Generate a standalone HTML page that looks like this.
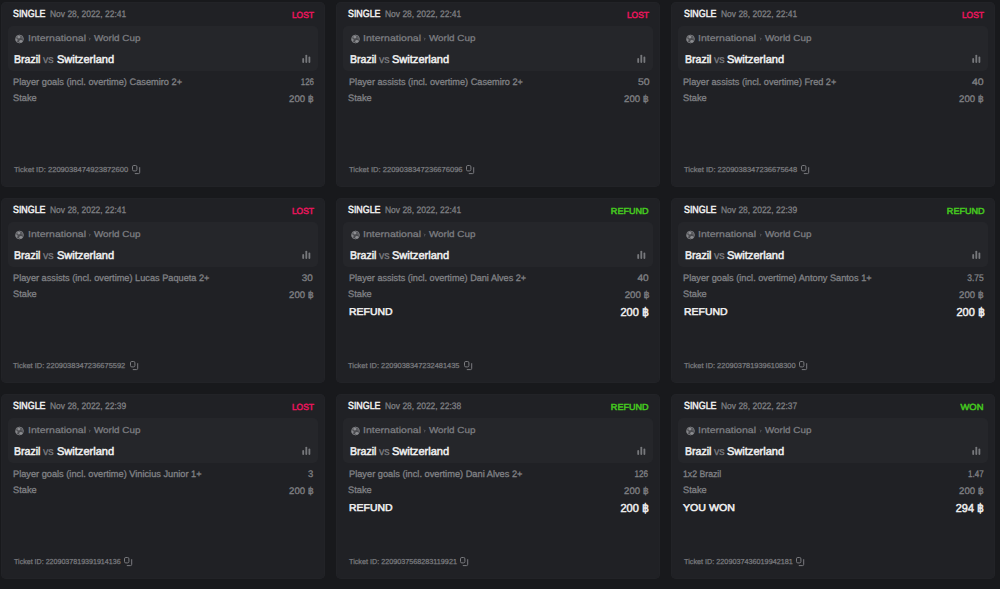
<!DOCTYPE html>
<html><head><meta charset="utf-8"><style>
html,body{margin:0;padding:0;}
body{width:1000px;height:589px;background:#18191c;position:relative;overflow:hidden;font-family:"Liberation Sans",sans-serif;text-rendering:geometricPrecision;}
.card{position:absolute;background:#202125;border-radius:5px;box-shadow:inset 0 0 0 1px #222327;}
.box{position:absolute;background:#25262a;border-radius:5px;}
.t{position:absolute;white-space:nowrap;line-height:1;}
.ic{position:absolute;overflow:visible;}
.dot{position:absolute;background:#606165;border-radius:50%;}
</style></head><body>
<div class="card" style="left:0.7px;top:2.1px;width:324.8px;height:184.8px"><span class="t" style="top:7.90px;font-size:10.3px;color:#f0f0f0;-webkit-text-stroke:0.5px #f0f0f0;left:12.46px;transform-origin:0 0;transform:scaleX(0.8608);">SINGLE</span><span class="t" style="top:7.65px;font-size:9.3px;color:#818286;-webkit-text-stroke:0.25px #818286;left:49.65px;transform-origin:0 0;transform:scaleX(0.9096);">Nov 28, 2022, 22:41</span><span class="t" style="top:9.25px;font-size:8.8px;color:#e8155c;-webkit-text-stroke:0.5px #e8155c;right:11.63px;transform-origin:100% 0;transform:scaleX(0.9604);">LOST</span><div class="box" style="left:6.9px;top:24.3px;width:310.5px;height:45.0px"></div><svg class="ic" style="left:13.75px;top:31.75px" width="10" height="10" viewBox="-5 -5 10 10"><g transform="translate(0.5,0)"><circle cx="0" cy="0" r="3.9" fill="#4a4b4f" stroke="#747579" stroke-width="1"/><ellipse cx="-0.6" cy="-1.9" rx="1.6" ry="1.3" fill="#8c8d91"/><ellipse cx="-2.9" cy="0.9" rx="1.0" ry="1.4" fill="#85868a"/><ellipse cx="1.3" cy="2.3" rx="1.5" ry="1.2" fill="#8c8d91"/><ellipse cx="2.6" cy="-1.2" rx="0.8" ry="1.0" fill="#6a6b6f"/></g></svg><span class="t" style="top:32.15px;font-size:8.7px;color:#7e7f83;-webkit-text-stroke:0.25px #7e7f83;left:27.11px;transform-origin:0 0;transform:scaleX(1.2143);">International</span><svg class="ic" style="left:87.60px;top:35.40px" width="4" height="4" viewBox="0 0 4 4"><path d="M1.3 1.0 L2.3 2.0 L1.3 3.0" fill="none" stroke="#606165" stroke-width="0.9" stroke-linecap="round" stroke-linejoin="round"/></svg><span class="t" style="top:32.15px;font-size:8.7px;color:#7e7f83;-webkit-text-stroke:0.25px #7e7f83;left:93.61px;transform-origin:0 0;transform:scaleX(1.1343);">World Cup</span><span class="t" style="top:52.80px;font-size:11.2px;color:#f0f0f0;-webkit-text-stroke:0.5px #f0f0f0;left:13.73px;transform-origin:0 0;transform:scaleX(0.9438);">Brazil</span><span class="t" style="top:52.80px;font-size:10.8px;color:#7e7f83;-webkit-text-stroke:0.25px #7e7f83;left:42.76px;transform-origin:0 0;transform:scaleX(0.9850);">vs</span><span class="t" style="top:52.80px;font-size:11.2px;color:#f0f0f0;-webkit-text-stroke:0.5px #f0f0f0;left:55.99px;transform-origin:0 0;transform:scaleX(0.9872);">Switzerland</span><svg class="ic" style="left:0;top:0" width="324.8" height="80"><rect x="301.3" y="56.0" width="1.8" height="4.9" rx="0.9" fill="#77787c"/><rect x="304.4" y="52.7" width="1.8" height="8.2" rx="0.9" fill="#77787c"/><rect x="307.5" y="54.5" width="1.8" height="6.4" rx="0.9" fill="#77787c"/></svg><span class="t" style="top:76.15px;font-size:9.3px;color:#808185;-webkit-text-stroke:0.3px #808185;left:12.28px;transform-origin:0 0;transform:scaleX(0.9933);">Player goals (incl. overtime) Casemiro 2+</span><span class="t" style="top:76.15px;font-size:9.6px;color:#808185;-webkit-text-stroke:0.3px #808185;right:11.68px;transform-origin:100% 0;transform:scaleX(0.8225);">126</span><span class="t" style="top:91.80px;font-size:9.3px;color:#808185;-webkit-text-stroke:0.3px #808185;left:12.31px;transform-origin:0 0;transform:scaleX(0.9984);">Stake</span><span class="t" style="top:93.00px;font-size:9.6px;color:#808185;-webkit-text-stroke:0.3px #808185;right:11.66px;transform-origin:100% 0;transform:scaleX(0.9951);">200 ฿</span><span class="t" style="top:163.90px;font-size:7.2px;color:#7a7b7f;-webkit-text-stroke:0.25px #7a7b7f;left:13.08px;transform-origin:0 0;transform:scaleX(1.0576);">Ticket ID: 2209038474923872600</span><svg class="ic" style="left:131.00px;top:162.70px" width="10" height="10" viewBox="0 0 10 10"><rect x="0.5" y="0.5" width="4.4" height="5.4" rx="1.3" fill="none" stroke="#7a7b7f" stroke-width="1"/><path d="M7.7 2.6 V7.4 Q7.7 8.6 6.5 8.6 H3.2" fill="none" stroke="#7a7b7f" stroke-width="1" stroke-linecap="round"/></svg></div><div class="card" style="left:335.8px;top:2.1px;width:324.2px;height:184.8px"><span class="t" style="top:7.90px;font-size:10.3px;color:#f0f0f0;-webkit-text-stroke:0.5px #f0f0f0;left:12.46px;transform-origin:0 0;transform:scaleX(0.8608);">SINGLE</span><span class="t" style="top:7.65px;font-size:9.3px;color:#818286;-webkit-text-stroke:0.25px #818286;left:49.65px;transform-origin:0 0;transform:scaleX(0.9096);">Nov 28, 2022, 22:41</span><span class="t" style="top:9.25px;font-size:8.8px;color:#e8155c;-webkit-text-stroke:0.5px #e8155c;right:11.03px;transform-origin:100% 0;transform:scaleX(0.9604);">LOST</span><div class="box" style="left:6.9px;top:24.3px;width:310.5px;height:45.0px"></div><svg class="ic" style="left:13.75px;top:31.75px" width="10" height="10" viewBox="-5 -5 10 10"><g transform="translate(0.5,0)"><circle cx="0" cy="0" r="3.9" fill="#4a4b4f" stroke="#747579" stroke-width="1"/><ellipse cx="-0.6" cy="-1.9" rx="1.6" ry="1.3" fill="#8c8d91"/><ellipse cx="-2.9" cy="0.9" rx="1.0" ry="1.4" fill="#85868a"/><ellipse cx="1.3" cy="2.3" rx="1.5" ry="1.2" fill="#8c8d91"/><ellipse cx="2.6" cy="-1.2" rx="0.8" ry="1.0" fill="#6a6b6f"/></g></svg><span class="t" style="top:32.15px;font-size:8.7px;color:#7e7f83;-webkit-text-stroke:0.25px #7e7f83;left:27.11px;transform-origin:0 0;transform:scaleX(1.2143);">International</span><svg class="ic" style="left:87.60px;top:35.40px" width="4" height="4" viewBox="0 0 4 4"><path d="M1.3 1.0 L2.3 2.0 L1.3 3.0" fill="none" stroke="#606165" stroke-width="0.9" stroke-linecap="round" stroke-linejoin="round"/></svg><span class="t" style="top:32.15px;font-size:8.7px;color:#7e7f83;-webkit-text-stroke:0.25px #7e7f83;left:93.61px;transform-origin:0 0;transform:scaleX(1.1343);">World Cup</span><span class="t" style="top:52.80px;font-size:11.2px;color:#f0f0f0;-webkit-text-stroke:0.5px #f0f0f0;left:13.73px;transform-origin:0 0;transform:scaleX(0.9438);">Brazil</span><span class="t" style="top:52.80px;font-size:10.8px;color:#7e7f83;-webkit-text-stroke:0.25px #7e7f83;left:42.76px;transform-origin:0 0;transform:scaleX(0.9850);">vs</span><span class="t" style="top:52.80px;font-size:11.2px;color:#f0f0f0;-webkit-text-stroke:0.5px #f0f0f0;left:55.99px;transform-origin:0 0;transform:scaleX(0.9872);">Switzerland</span><svg class="ic" style="left:0;top:0" width="324.2" height="80"><rect x="301.3" y="56.0" width="1.8" height="4.9" rx="0.9" fill="#77787c"/><rect x="304.4" y="52.7" width="1.8" height="8.2" rx="0.9" fill="#77787c"/><rect x="307.5" y="54.5" width="1.8" height="6.4" rx="0.9" fill="#77787c"/></svg><span class="t" style="top:76.15px;font-size:9.3px;color:#808185;-webkit-text-stroke:0.3px #808185;left:12.71px;transform-origin:0 0;transform:scaleX(0.9855);">Player assists (incl. overtime) Casemiro 2+</span><span class="t" style="top:76.15px;font-size:9.6px;color:#808185;-webkit-text-stroke:0.3px #808185;right:10.76px;transform-origin:100% 0;transform:scaleX(1.0925);">50</span><span class="t" style="top:91.80px;font-size:9.3px;color:#808185;-webkit-text-stroke:0.3px #808185;left:12.31px;transform-origin:0 0;transform:scaleX(0.9984);">Stake</span><span class="t" style="top:93.00px;font-size:9.6px;color:#808185;-webkit-text-stroke:0.3px #808185;right:11.06px;transform-origin:100% 0;transform:scaleX(0.9951);">200 ฿</span><span class="t" style="top:163.90px;font-size:7.2px;color:#7a7b7f;-webkit-text-stroke:0.25px #7a7b7f;left:12.96px;transform-origin:0 0;transform:scaleX(1.0512);">Ticket ID: 2209038347236676096</span><svg class="ic" style="left:130.20px;top:162.70px" width="10" height="10" viewBox="0 0 10 10"><rect x="0.5" y="0.5" width="4.4" height="5.4" rx="1.3" fill="none" stroke="#7a7b7f" stroke-width="1"/><path d="M7.7 2.6 V7.4 Q7.7 8.6 6.5 8.6 H3.2" fill="none" stroke="#7a7b7f" stroke-width="1" stroke-linecap="round"/></svg></div><div class="card" style="left:671.1px;top:2.1px;width:324.0px;height:184.8px"><span class="t" style="top:7.90px;font-size:10.3px;color:#f0f0f0;-webkit-text-stroke:0.5px #f0f0f0;left:12.46px;transform-origin:0 0;transform:scaleX(0.8608);">SINGLE</span><span class="t" style="top:7.65px;font-size:9.3px;color:#818286;-webkit-text-stroke:0.25px #818286;left:49.65px;transform-origin:0 0;transform:scaleX(0.9096);">Nov 28, 2022, 22:41</span><span class="t" style="top:9.25px;font-size:8.8px;color:#e8155c;-webkit-text-stroke:0.5px #e8155c;right:10.83px;transform-origin:100% 0;transform:scaleX(0.9604);">LOST</span><div class="box" style="left:6.9px;top:24.3px;width:310.5px;height:45.0px"></div><svg class="ic" style="left:13.75px;top:31.75px" width="10" height="10" viewBox="-5 -5 10 10"><g transform="translate(0.5,0)"><circle cx="0" cy="0" r="3.9" fill="#4a4b4f" stroke="#747579" stroke-width="1"/><ellipse cx="-0.6" cy="-1.9" rx="1.6" ry="1.3" fill="#8c8d91"/><ellipse cx="-2.9" cy="0.9" rx="1.0" ry="1.4" fill="#85868a"/><ellipse cx="1.3" cy="2.3" rx="1.5" ry="1.2" fill="#8c8d91"/><ellipse cx="2.6" cy="-1.2" rx="0.8" ry="1.0" fill="#6a6b6f"/></g></svg><span class="t" style="top:32.15px;font-size:8.7px;color:#7e7f83;-webkit-text-stroke:0.25px #7e7f83;left:27.11px;transform-origin:0 0;transform:scaleX(1.2143);">International</span><svg class="ic" style="left:87.60px;top:35.40px" width="4" height="4" viewBox="0 0 4 4"><path d="M1.3 1.0 L2.3 2.0 L1.3 3.0" fill="none" stroke="#606165" stroke-width="0.9" stroke-linecap="round" stroke-linejoin="round"/></svg><span class="t" style="top:32.15px;font-size:8.7px;color:#7e7f83;-webkit-text-stroke:0.25px #7e7f83;left:93.61px;transform-origin:0 0;transform:scaleX(1.1343);">World Cup</span><span class="t" style="top:52.80px;font-size:11.2px;color:#f0f0f0;-webkit-text-stroke:0.5px #f0f0f0;left:13.73px;transform-origin:0 0;transform:scaleX(0.9438);">Brazil</span><span class="t" style="top:52.80px;font-size:10.8px;color:#7e7f83;-webkit-text-stroke:0.25px #7e7f83;left:42.76px;transform-origin:0 0;transform:scaleX(0.9850);">vs</span><span class="t" style="top:52.80px;font-size:11.2px;color:#f0f0f0;-webkit-text-stroke:0.5px #f0f0f0;left:55.99px;transform-origin:0 0;transform:scaleX(0.9872);">Switzerland</span><svg class="ic" style="left:0;top:0" width="324.0" height="80"><rect x="301.3" y="56.0" width="1.8" height="4.9" rx="0.9" fill="#77787c"/><rect x="304.4" y="52.7" width="1.8" height="8.2" rx="0.9" fill="#77787c"/><rect x="307.5" y="54.5" width="1.8" height="6.4" rx="0.9" fill="#77787c"/></svg><span class="t" style="top:76.15px;font-size:9.3px;color:#808185;-webkit-text-stroke:0.3px #808185;left:11.53px;transform-origin:0 0;transform:scaleX(0.9842);">Player assists (incl. overtime) Fred 2+</span><span class="t" style="top:76.15px;font-size:9.6px;color:#808185;-webkit-text-stroke:0.3px #808185;right:11.45px;transform-origin:100% 0;transform:scaleX(1.0927);">40</span><span class="t" style="top:91.80px;font-size:9.3px;color:#808185;-webkit-text-stroke:0.3px #808185;left:12.31px;transform-origin:0 0;transform:scaleX(0.9984);">Stake</span><span class="t" style="top:93.00px;font-size:9.6px;color:#808185;-webkit-text-stroke:0.3px #808185;right:10.86px;transform-origin:100% 0;transform:scaleX(0.9951);">200 ฿</span><span class="t" style="top:163.90px;font-size:7.2px;color:#7a7b7f;-webkit-text-stroke:0.25px #7a7b7f;left:12.70px;transform-origin:0 0;transform:scaleX(1.0477);">Ticket ID: 2209038347236675648</span><svg class="ic" style="left:129.90px;top:162.70px" width="10" height="10" viewBox="0 0 10 10"><rect x="0.5" y="0.5" width="4.4" height="5.4" rx="1.3" fill="none" stroke="#7a7b7f" stroke-width="1"/><path d="M7.7 2.6 V7.4 Q7.7 8.6 6.5 8.6 H3.2" fill="none" stroke="#7a7b7f" stroke-width="1" stroke-linecap="round"/></svg></div><div class="card" style="left:0.7px;top:198.05px;width:324.8px;height:184.8px"><span class="t" style="top:7.90px;font-size:10.3px;color:#f0f0f0;-webkit-text-stroke:0.5px #f0f0f0;left:12.46px;transform-origin:0 0;transform:scaleX(0.8608);">SINGLE</span><span class="t" style="top:7.65px;font-size:9.3px;color:#818286;-webkit-text-stroke:0.25px #818286;left:49.65px;transform-origin:0 0;transform:scaleX(0.9096);">Nov 28, 2022, 22:41</span><span class="t" style="top:9.25px;font-size:8.8px;color:#e8155c;-webkit-text-stroke:0.5px #e8155c;right:11.63px;transform-origin:100% 0;transform:scaleX(0.9604);">LOST</span><div class="box" style="left:6.9px;top:24.3px;width:310.5px;height:45.0px"></div><svg class="ic" style="left:13.75px;top:31.75px" width="10" height="10" viewBox="-5 -5 10 10"><g transform="translate(0.5,0)"><circle cx="0" cy="0" r="3.9" fill="#4a4b4f" stroke="#747579" stroke-width="1"/><ellipse cx="-0.6" cy="-1.9" rx="1.6" ry="1.3" fill="#8c8d91"/><ellipse cx="-2.9" cy="0.9" rx="1.0" ry="1.4" fill="#85868a"/><ellipse cx="1.3" cy="2.3" rx="1.5" ry="1.2" fill="#8c8d91"/><ellipse cx="2.6" cy="-1.2" rx="0.8" ry="1.0" fill="#6a6b6f"/></g></svg><span class="t" style="top:32.15px;font-size:8.7px;color:#7e7f83;-webkit-text-stroke:0.25px #7e7f83;left:27.11px;transform-origin:0 0;transform:scaleX(1.2143);">International</span><svg class="ic" style="left:87.60px;top:35.40px" width="4" height="4" viewBox="0 0 4 4"><path d="M1.3 1.0 L2.3 2.0 L1.3 3.0" fill="none" stroke="#606165" stroke-width="0.9" stroke-linecap="round" stroke-linejoin="round"/></svg><span class="t" style="top:32.15px;font-size:8.7px;color:#7e7f83;-webkit-text-stroke:0.25px #7e7f83;left:93.61px;transform-origin:0 0;transform:scaleX(1.1343);">World Cup</span><span class="t" style="top:52.80px;font-size:11.2px;color:#f0f0f0;-webkit-text-stroke:0.5px #f0f0f0;left:13.73px;transform-origin:0 0;transform:scaleX(0.9438);">Brazil</span><span class="t" style="top:52.80px;font-size:10.8px;color:#7e7f83;-webkit-text-stroke:0.25px #7e7f83;left:42.76px;transform-origin:0 0;transform:scaleX(0.9850);">vs</span><span class="t" style="top:52.80px;font-size:11.2px;color:#f0f0f0;-webkit-text-stroke:0.5px #f0f0f0;left:55.99px;transform-origin:0 0;transform:scaleX(0.9872);">Switzerland</span><svg class="ic" style="left:0;top:0" width="324.8" height="80"><rect x="301.3" y="56.0" width="1.8" height="4.9" rx="0.9" fill="#77787c"/><rect x="304.4" y="52.7" width="1.8" height="8.2" rx="0.9" fill="#77787c"/><rect x="307.5" y="54.5" width="1.8" height="6.4" rx="0.9" fill="#77787c"/></svg><span class="t" style="top:76.15px;font-size:9.3px;color:#808185;-webkit-text-stroke:0.3px #808185;left:12.50px;transform-origin:0 0;transform:scaleX(0.9888);">Player assists (incl. overtime) Lucas Paqueta 2+</span><span class="t" style="top:76.15px;font-size:9.6px;color:#808185;-webkit-text-stroke:0.3px #808185;right:12.49px;transform-origin:100% 0;transform:scaleX(1.0302);">30</span><span class="t" style="top:91.80px;font-size:9.3px;color:#808185;-webkit-text-stroke:0.3px #808185;left:12.31px;transform-origin:0 0;transform:scaleX(0.9984);">Stake</span><span class="t" style="top:93.00px;font-size:9.6px;color:#808185;-webkit-text-stroke:0.3px #808185;right:11.66px;transform-origin:100% 0;transform:scaleX(0.9951);">200 ฿</span><span class="t" style="top:163.90px;font-size:7.2px;color:#7a7b7f;-webkit-text-stroke:0.25px #7a7b7f;left:12.68px;transform-origin:0 0;transform:scaleX(1.0391);">Ticket ID: 2209038347236675592</span><svg class="ic" style="left:129.00px;top:162.70px" width="10" height="10" viewBox="0 0 10 10"><rect x="0.5" y="0.5" width="4.4" height="5.4" rx="1.3" fill="none" stroke="#7a7b7f" stroke-width="1"/><path d="M7.7 2.6 V7.4 Q7.7 8.6 6.5 8.6 H3.2" fill="none" stroke="#7a7b7f" stroke-width="1" stroke-linecap="round"/></svg></div><div class="card" style="left:335.8px;top:198.05px;width:324.2px;height:184.8px"><span class="t" style="top:7.90px;font-size:10.3px;color:#f0f0f0;-webkit-text-stroke:0.5px #f0f0f0;left:12.46px;transform-origin:0 0;transform:scaleX(0.8608);">SINGLE</span><span class="t" style="top:7.65px;font-size:9.3px;color:#818286;-webkit-text-stroke:0.25px #818286;left:49.65px;transform-origin:0 0;transform:scaleX(0.9096);">Nov 28, 2022, 22:41</span><span class="t" style="top:9.25px;font-size:8.8px;color:#45c81f;-webkit-text-stroke:0.5px #45c81f;right:11.10px;transform-origin:100% 0;transform:scaleX(1.0314);">REFUND</span><div class="box" style="left:6.9px;top:24.3px;width:310.5px;height:45.0px"></div><svg class="ic" style="left:13.75px;top:31.75px" width="10" height="10" viewBox="-5 -5 10 10"><g transform="translate(0.5,0)"><circle cx="0" cy="0" r="3.9" fill="#4a4b4f" stroke="#747579" stroke-width="1"/><ellipse cx="-0.6" cy="-1.9" rx="1.6" ry="1.3" fill="#8c8d91"/><ellipse cx="-2.9" cy="0.9" rx="1.0" ry="1.4" fill="#85868a"/><ellipse cx="1.3" cy="2.3" rx="1.5" ry="1.2" fill="#8c8d91"/><ellipse cx="2.6" cy="-1.2" rx="0.8" ry="1.0" fill="#6a6b6f"/></g></svg><span class="t" style="top:32.15px;font-size:8.7px;color:#7e7f83;-webkit-text-stroke:0.25px #7e7f83;left:27.11px;transform-origin:0 0;transform:scaleX(1.2143);">International</span><svg class="ic" style="left:87.60px;top:35.40px" width="4" height="4" viewBox="0 0 4 4"><path d="M1.3 1.0 L2.3 2.0 L1.3 3.0" fill="none" stroke="#606165" stroke-width="0.9" stroke-linecap="round" stroke-linejoin="round"/></svg><span class="t" style="top:32.15px;font-size:8.7px;color:#7e7f83;-webkit-text-stroke:0.25px #7e7f83;left:93.61px;transform-origin:0 0;transform:scaleX(1.1343);">World Cup</span><span class="t" style="top:52.80px;font-size:11.2px;color:#f0f0f0;-webkit-text-stroke:0.5px #f0f0f0;left:13.73px;transform-origin:0 0;transform:scaleX(0.9438);">Brazil</span><span class="t" style="top:52.80px;font-size:10.8px;color:#7e7f83;-webkit-text-stroke:0.25px #7e7f83;left:42.76px;transform-origin:0 0;transform:scaleX(0.9850);">vs</span><span class="t" style="top:52.80px;font-size:11.2px;color:#f0f0f0;-webkit-text-stroke:0.5px #f0f0f0;left:55.99px;transform-origin:0 0;transform:scaleX(0.9872);">Switzerland</span><svg class="ic" style="left:0;top:0" width="324.2" height="80"><rect x="301.3" y="56.0" width="1.8" height="4.9" rx="0.9" fill="#77787c"/><rect x="304.4" y="52.7" width="1.8" height="8.2" rx="0.9" fill="#77787c"/><rect x="307.5" y="54.5" width="1.8" height="6.4" rx="0.9" fill="#77787c"/></svg><span class="t" style="top:76.15px;font-size:9.3px;color:#808185;-webkit-text-stroke:0.3px #808185;left:12.88px;transform-origin:0 0;transform:scaleX(0.9811);">Player assists (incl. overtime) Dani Alves 2+</span><span class="t" style="top:76.15px;font-size:9.6px;color:#808185;-webkit-text-stroke:0.3px #808185;right:11.72px;transform-origin:100% 0;transform:scaleX(1.0510);">40</span><span class="t" style="top:91.80px;font-size:9.3px;color:#808185;-webkit-text-stroke:0.3px #808185;left:12.31px;transform-origin:0 0;transform:scaleX(0.9984);">Stake</span><span class="t" style="top:93.00px;font-size:9.6px;color:#808185;-webkit-text-stroke:0.3px #808185;right:10.67px;transform-origin:100% 0;transform:scaleX(1.0133);">200 ฿</span><span class="t" style="top:109.75px;font-size:10.0px;color:#f0f0f0;-webkit-text-stroke:0.5px #f0f0f0;left:13.02px;transform-origin:0 0;transform:scaleX(1.0462);">REFUND</span><span class="t" style="top:108.55px;font-size:11.6px;color:#f0f0f0;-webkit-text-stroke:0.5px #f0f0f0;right:10.81px;transform-origin:100% 0;transform:scaleX(0.9503);">200 ฿</span><span class="t" style="top:163.90px;font-size:7.2px;color:#7a7b7f;-webkit-text-stroke:0.25px #7a7b7f;left:12.54px;transform-origin:0 0;transform:scaleX(1.0311);">Ticket ID: 2209038347232481435</span><svg class="ic" style="left:128.30px;top:162.70px" width="10" height="10" viewBox="0 0 10 10"><rect x="0.5" y="0.5" width="4.4" height="5.4" rx="1.3" fill="none" stroke="#7a7b7f" stroke-width="1"/><path d="M7.7 2.6 V7.4 Q7.7 8.6 6.5 8.6 H3.2" fill="none" stroke="#7a7b7f" stroke-width="1" stroke-linecap="round"/></svg></div><div class="card" style="left:671.1px;top:198.05px;width:324.0px;height:184.8px"><span class="t" style="top:7.90px;font-size:10.3px;color:#f0f0f0;-webkit-text-stroke:0.5px #f0f0f0;left:12.46px;transform-origin:0 0;transform:scaleX(0.8608);">SINGLE</span><span class="t" style="top:7.65px;font-size:9.3px;color:#818286;-webkit-text-stroke:0.25px #818286;left:49.65px;transform-origin:0 0;transform:scaleX(0.9096);">Nov 28, 2022, 22:39</span><span class="t" style="top:9.25px;font-size:8.8px;color:#45c81f;-webkit-text-stroke:0.5px #45c81f;right:10.90px;transform-origin:100% 0;transform:scaleX(1.0314);">REFUND</span><div class="box" style="left:6.9px;top:24.3px;width:310.5px;height:45.0px"></div><svg class="ic" style="left:13.75px;top:31.75px" width="10" height="10" viewBox="-5 -5 10 10"><g transform="translate(0.5,0)"><circle cx="0" cy="0" r="3.9" fill="#4a4b4f" stroke="#747579" stroke-width="1"/><ellipse cx="-0.6" cy="-1.9" rx="1.6" ry="1.3" fill="#8c8d91"/><ellipse cx="-2.9" cy="0.9" rx="1.0" ry="1.4" fill="#85868a"/><ellipse cx="1.3" cy="2.3" rx="1.5" ry="1.2" fill="#8c8d91"/><ellipse cx="2.6" cy="-1.2" rx="0.8" ry="1.0" fill="#6a6b6f"/></g></svg><span class="t" style="top:32.15px;font-size:8.7px;color:#7e7f83;-webkit-text-stroke:0.25px #7e7f83;left:27.11px;transform-origin:0 0;transform:scaleX(1.2143);">International</span><svg class="ic" style="left:87.60px;top:35.40px" width="4" height="4" viewBox="0 0 4 4"><path d="M1.3 1.0 L2.3 2.0 L1.3 3.0" fill="none" stroke="#606165" stroke-width="0.9" stroke-linecap="round" stroke-linejoin="round"/></svg><span class="t" style="top:32.15px;font-size:8.7px;color:#7e7f83;-webkit-text-stroke:0.25px #7e7f83;left:93.61px;transform-origin:0 0;transform:scaleX(1.1343);">World Cup</span><span class="t" style="top:52.80px;font-size:11.2px;color:#f0f0f0;-webkit-text-stroke:0.5px #f0f0f0;left:13.73px;transform-origin:0 0;transform:scaleX(0.9438);">Brazil</span><span class="t" style="top:52.80px;font-size:10.8px;color:#7e7f83;-webkit-text-stroke:0.25px #7e7f83;left:42.76px;transform-origin:0 0;transform:scaleX(0.9850);">vs</span><span class="t" style="top:52.80px;font-size:11.2px;color:#f0f0f0;-webkit-text-stroke:0.5px #f0f0f0;left:55.99px;transform-origin:0 0;transform:scaleX(0.9872);">Switzerland</span><svg class="ic" style="left:0;top:0" width="324.0" height="80"><rect x="301.3" y="56.0" width="1.8" height="4.9" rx="0.9" fill="#77787c"/><rect x="304.4" y="52.7" width="1.8" height="8.2" rx="0.9" fill="#77787c"/><rect x="307.5" y="54.5" width="1.8" height="6.4" rx="0.9" fill="#77787c"/></svg><span class="t" style="top:76.15px;font-size:9.3px;color:#808185;-webkit-text-stroke:0.3px #808185;left:11.84px;transform-origin:0 0;transform:scaleX(0.9907);">Player goals (incl. overtime) Antony Santos 1+</span><span class="t" style="top:76.15px;font-size:9.6px;color:#808185;-webkit-text-stroke:0.3px #808185;right:11.68px;transform-origin:100% 0;transform:scaleX(0.8784);">3.75</span><span class="t" style="top:91.80px;font-size:9.3px;color:#808185;-webkit-text-stroke:0.3px #808185;left:12.31px;transform-origin:0 0;transform:scaleX(0.9984);">Stake</span><span class="t" style="top:93.00px;font-size:9.6px;color:#808185;-webkit-text-stroke:0.3px #808185;right:10.86px;transform-origin:100% 0;transform:scaleX(0.9951);">200 ฿</span><span class="t" style="top:109.75px;font-size:10.0px;color:#f0f0f0;-webkit-text-stroke:0.5px #f0f0f0;left:13.02px;transform-origin:0 0;transform:scaleX(1.0462);">REFUND</span><span class="t" style="top:108.55px;font-size:11.6px;color:#f0f0f0;-webkit-text-stroke:0.5px #f0f0f0;right:10.61px;transform-origin:100% 0;transform:scaleX(0.9503);">200 ฿</span><span class="t" style="top:163.90px;font-size:7.2px;color:#7a7b7f;-webkit-text-stroke:0.25px #7a7b7f;left:12.70px;transform-origin:0 0;transform:scaleX(1.0325);">Ticket ID: 2209037819396108300</span><svg class="ic" style="left:128.00px;top:162.70px" width="10" height="10" viewBox="0 0 10 10"><rect x="0.5" y="0.5" width="4.4" height="5.4" rx="1.3" fill="none" stroke="#7a7b7f" stroke-width="1"/><path d="M7.7 2.6 V7.4 Q7.7 8.6 6.5 8.6 H3.2" fill="none" stroke="#7a7b7f" stroke-width="1" stroke-linecap="round"/></svg></div><div class="card" style="left:0.7px;top:394.0px;width:324.8px;height:184.8px"><span class="t" style="top:7.90px;font-size:10.3px;color:#f0f0f0;-webkit-text-stroke:0.5px #f0f0f0;left:12.46px;transform-origin:0 0;transform:scaleX(0.8608);">SINGLE</span><span class="t" style="top:7.65px;font-size:9.3px;color:#818286;-webkit-text-stroke:0.25px #818286;left:49.65px;transform-origin:0 0;transform:scaleX(0.9096);">Nov 28, 2022, 22:39</span><span class="t" style="top:9.25px;font-size:8.8px;color:#e8155c;-webkit-text-stroke:0.5px #e8155c;right:11.63px;transform-origin:100% 0;transform:scaleX(0.9604);">LOST</span><div class="box" style="left:6.9px;top:24.3px;width:310.5px;height:45.0px"></div><svg class="ic" style="left:13.75px;top:31.75px" width="10" height="10" viewBox="-5 -5 10 10"><g transform="translate(0.5,0)"><circle cx="0" cy="0" r="3.9" fill="#4a4b4f" stroke="#747579" stroke-width="1"/><ellipse cx="-0.6" cy="-1.9" rx="1.6" ry="1.3" fill="#8c8d91"/><ellipse cx="-2.9" cy="0.9" rx="1.0" ry="1.4" fill="#85868a"/><ellipse cx="1.3" cy="2.3" rx="1.5" ry="1.2" fill="#8c8d91"/><ellipse cx="2.6" cy="-1.2" rx="0.8" ry="1.0" fill="#6a6b6f"/></g></svg><span class="t" style="top:32.15px;font-size:8.7px;color:#7e7f83;-webkit-text-stroke:0.25px #7e7f83;left:27.11px;transform-origin:0 0;transform:scaleX(1.2143);">International</span><svg class="ic" style="left:87.60px;top:35.40px" width="4" height="4" viewBox="0 0 4 4"><path d="M1.3 1.0 L2.3 2.0 L1.3 3.0" fill="none" stroke="#606165" stroke-width="0.9" stroke-linecap="round" stroke-linejoin="round"/></svg><span class="t" style="top:32.15px;font-size:8.7px;color:#7e7f83;-webkit-text-stroke:0.25px #7e7f83;left:93.61px;transform-origin:0 0;transform:scaleX(1.1343);">World Cup</span><span class="t" style="top:52.80px;font-size:11.2px;color:#f0f0f0;-webkit-text-stroke:0.5px #f0f0f0;left:13.73px;transform-origin:0 0;transform:scaleX(0.9438);">Brazil</span><span class="t" style="top:52.80px;font-size:10.8px;color:#7e7f83;-webkit-text-stroke:0.25px #7e7f83;left:42.76px;transform-origin:0 0;transform:scaleX(0.9850);">vs</span><span class="t" style="top:52.80px;font-size:11.2px;color:#f0f0f0;-webkit-text-stroke:0.5px #f0f0f0;left:55.99px;transform-origin:0 0;transform:scaleX(0.9872);">Switzerland</span><svg class="ic" style="left:0;top:0" width="324.8" height="80"><rect x="301.3" y="56.0" width="1.8" height="4.9" rx="0.9" fill="#77787c"/><rect x="304.4" y="52.7" width="1.8" height="8.2" rx="0.9" fill="#77787c"/><rect x="307.5" y="54.5" width="1.8" height="6.4" rx="0.9" fill="#77787c"/></svg><span class="t" style="top:76.15px;font-size:9.3px;color:#808185;-webkit-text-stroke:0.3px #808185;left:12.15px;transform-origin:0 0;transform:scaleX(0.9915);">Player goals (incl. overtime) Vinicius Junior 1+</span><span class="t" style="top:76.15px;font-size:9.6px;color:#808185;-webkit-text-stroke:0.3px #808185;right:12.05px;transform-origin:100% 0;transform:scaleX(0.9828);">3</span><span class="t" style="top:91.80px;font-size:9.3px;color:#808185;-webkit-text-stroke:0.3px #808185;left:12.31px;transform-origin:0 0;transform:scaleX(0.9984);">Stake</span><span class="t" style="top:93.00px;font-size:9.6px;color:#808185;-webkit-text-stroke:0.3px #808185;right:11.66px;transform-origin:100% 0;transform:scaleX(0.9951);">200 ฿</span><span class="t" style="top:163.90px;font-size:7.2px;color:#7a7b7f;-webkit-text-stroke:0.25px #7a7b7f;left:13.08px;transform-origin:0 0;transform:scaleX(0.9867);">Ticket ID: 2209037819391914136</span><svg class="ic" style="left:123.60px;top:162.70px" width="10" height="10" viewBox="0 0 10 10"><rect x="0.5" y="0.5" width="4.4" height="5.4" rx="1.3" fill="none" stroke="#7a7b7f" stroke-width="1"/><path d="M7.7 2.6 V7.4 Q7.7 8.6 6.5 8.6 H3.2" fill="none" stroke="#7a7b7f" stroke-width="1" stroke-linecap="round"/></svg></div><div class="card" style="left:335.8px;top:394.0px;width:324.2px;height:184.8px"><span class="t" style="top:7.90px;font-size:10.3px;color:#f0f0f0;-webkit-text-stroke:0.5px #f0f0f0;left:12.46px;transform-origin:0 0;transform:scaleX(0.8608);">SINGLE</span><span class="t" style="top:7.65px;font-size:9.3px;color:#818286;-webkit-text-stroke:0.25px #818286;left:49.65px;transform-origin:0 0;transform:scaleX(0.9096);">Nov 28, 2022, 22:38</span><span class="t" style="top:9.25px;font-size:8.8px;color:#45c81f;-webkit-text-stroke:0.5px #45c81f;right:11.10px;transform-origin:100% 0;transform:scaleX(1.0314);">REFUND</span><div class="box" style="left:6.9px;top:24.3px;width:310.5px;height:45.0px"></div><svg class="ic" style="left:13.75px;top:31.75px" width="10" height="10" viewBox="-5 -5 10 10"><g transform="translate(0.5,0)"><circle cx="0" cy="0" r="3.9" fill="#4a4b4f" stroke="#747579" stroke-width="1"/><ellipse cx="-0.6" cy="-1.9" rx="1.6" ry="1.3" fill="#8c8d91"/><ellipse cx="-2.9" cy="0.9" rx="1.0" ry="1.4" fill="#85868a"/><ellipse cx="1.3" cy="2.3" rx="1.5" ry="1.2" fill="#8c8d91"/><ellipse cx="2.6" cy="-1.2" rx="0.8" ry="1.0" fill="#6a6b6f"/></g></svg><span class="t" style="top:32.15px;font-size:8.7px;color:#7e7f83;-webkit-text-stroke:0.25px #7e7f83;left:27.11px;transform-origin:0 0;transform:scaleX(1.2143);">International</span><svg class="ic" style="left:87.60px;top:35.40px" width="4" height="4" viewBox="0 0 4 4"><path d="M1.3 1.0 L2.3 2.0 L1.3 3.0" fill="none" stroke="#606165" stroke-width="0.9" stroke-linecap="round" stroke-linejoin="round"/></svg><span class="t" style="top:32.15px;font-size:8.7px;color:#7e7f83;-webkit-text-stroke:0.25px #7e7f83;left:93.61px;transform-origin:0 0;transform:scaleX(1.1343);">World Cup</span><span class="t" style="top:52.80px;font-size:11.2px;color:#f0f0f0;-webkit-text-stroke:0.5px #f0f0f0;left:13.73px;transform-origin:0 0;transform:scaleX(0.9438);">Brazil</span><span class="t" style="top:52.80px;font-size:10.8px;color:#7e7f83;-webkit-text-stroke:0.25px #7e7f83;left:42.76px;transform-origin:0 0;transform:scaleX(0.9850);">vs</span><span class="t" style="top:52.80px;font-size:11.2px;color:#f0f0f0;-webkit-text-stroke:0.5px #f0f0f0;left:55.99px;transform-origin:0 0;transform:scaleX(0.9872);">Switzerland</span><svg class="ic" style="left:0;top:0" width="324.2" height="80"><rect x="301.3" y="56.0" width="1.8" height="4.9" rx="0.9" fill="#77787c"/><rect x="304.4" y="52.7" width="1.8" height="8.2" rx="0.9" fill="#77787c"/><rect x="307.5" y="54.5" width="1.8" height="6.4" rx="0.9" fill="#77787c"/></svg><span class="t" style="top:76.15px;font-size:9.3px;color:#808185;-webkit-text-stroke:0.3px #808185;left:12.80px;transform-origin:0 0;transform:scaleX(0.9948);">Player goals (incl. overtime) Dani Alves 2+</span><span class="t" style="top:76.15px;font-size:9.6px;color:#808185;-webkit-text-stroke:0.3px #808185;right:11.62px;transform-origin:100% 0;transform:scaleX(0.8443);">126</span><span class="t" style="top:91.80px;font-size:9.3px;color:#808185;-webkit-text-stroke:0.3px #808185;left:12.31px;transform-origin:0 0;transform:scaleX(0.9984);">Stake</span><span class="t" style="top:93.00px;font-size:9.6px;color:#808185;-webkit-text-stroke:0.3px #808185;right:11.06px;transform-origin:100% 0;transform:scaleX(0.9951);">200 ฿</span><span class="t" style="top:109.75px;font-size:10.0px;color:#f0f0f0;-webkit-text-stroke:0.5px #f0f0f0;left:13.02px;transform-origin:0 0;transform:scaleX(1.0462);">REFUND</span><span class="t" style="top:108.55px;font-size:11.6px;color:#f0f0f0;-webkit-text-stroke:0.5px #f0f0f0;right:10.81px;transform-origin:100% 0;transform:scaleX(0.9503);">200 ฿</span><span class="t" style="top:163.90px;font-size:7.2px;color:#7a7b7f;-webkit-text-stroke:0.25px #7a7b7f;left:13.20px;transform-origin:0 0;transform:scaleX(1.0038);">Ticket ID: 2209037568283119921</span><svg class="ic" style="left:124.60px;top:162.70px" width="10" height="10" viewBox="0 0 10 10"><rect x="0.5" y="0.5" width="4.4" height="5.4" rx="1.3" fill="none" stroke="#7a7b7f" stroke-width="1"/><path d="M7.7 2.6 V7.4 Q7.7 8.6 6.5 8.6 H3.2" fill="none" stroke="#7a7b7f" stroke-width="1" stroke-linecap="round"/></svg></div><div class="card" style="left:671.1px;top:394.0px;width:324.0px;height:184.8px"><span class="t" style="top:7.90px;font-size:10.3px;color:#f0f0f0;-webkit-text-stroke:0.5px #f0f0f0;left:12.46px;transform-origin:0 0;transform:scaleX(0.8608);">SINGLE</span><span class="t" style="top:7.65px;font-size:9.3px;color:#818286;-webkit-text-stroke:0.25px #818286;left:49.65px;transform-origin:0 0;transform:scaleX(0.9096);">Nov 28, 2022, 22:37</span><span class="t" style="top:9.25px;font-size:8.8px;color:#45c81f;-webkit-text-stroke:0.5px #45c81f;right:11.17px;transform-origin:100% 0;transform:scaleX(1.0710);">WON</span><div class="box" style="left:6.9px;top:24.3px;width:310.5px;height:45.0px"></div><svg class="ic" style="left:13.75px;top:31.75px" width="10" height="10" viewBox="-5 -5 10 10"><g transform="translate(0.5,0)"><circle cx="0" cy="0" r="3.9" fill="#4a4b4f" stroke="#747579" stroke-width="1"/><ellipse cx="-0.6" cy="-1.9" rx="1.6" ry="1.3" fill="#8c8d91"/><ellipse cx="-2.9" cy="0.9" rx="1.0" ry="1.4" fill="#85868a"/><ellipse cx="1.3" cy="2.3" rx="1.5" ry="1.2" fill="#8c8d91"/><ellipse cx="2.6" cy="-1.2" rx="0.8" ry="1.0" fill="#6a6b6f"/></g></svg><span class="t" style="top:32.15px;font-size:8.7px;color:#7e7f83;-webkit-text-stroke:0.25px #7e7f83;left:27.11px;transform-origin:0 0;transform:scaleX(1.2143);">International</span><svg class="ic" style="left:87.60px;top:35.40px" width="4" height="4" viewBox="0 0 4 4"><path d="M1.3 1.0 L2.3 2.0 L1.3 3.0" fill="none" stroke="#606165" stroke-width="0.9" stroke-linecap="round" stroke-linejoin="round"/></svg><span class="t" style="top:32.15px;font-size:8.7px;color:#7e7f83;-webkit-text-stroke:0.25px #7e7f83;left:93.61px;transform-origin:0 0;transform:scaleX(1.1343);">World Cup</span><span class="t" style="top:52.80px;font-size:11.2px;color:#f0f0f0;-webkit-text-stroke:0.5px #f0f0f0;left:13.73px;transform-origin:0 0;transform:scaleX(0.9438);">Brazil</span><span class="t" style="top:52.80px;font-size:10.8px;color:#7e7f83;-webkit-text-stroke:0.25px #7e7f83;left:42.76px;transform-origin:0 0;transform:scaleX(0.9850);">vs</span><span class="t" style="top:52.80px;font-size:11.2px;color:#f0f0f0;-webkit-text-stroke:0.5px #f0f0f0;left:55.99px;transform-origin:0 0;transform:scaleX(0.9872);">Switzerland</span><svg class="ic" style="left:0;top:0" width="324.0" height="80"><rect x="301.3" y="56.0" width="1.8" height="4.9" rx="0.9" fill="#77787c"/><rect x="304.4" y="52.7" width="1.8" height="8.2" rx="0.9" fill="#77787c"/><rect x="307.5" y="54.5" width="1.8" height="6.4" rx="0.9" fill="#77787c"/></svg><span class="t" style="top:76.15px;font-size:9.3px;color:#808185;-webkit-text-stroke:0.3px #808185;left:12.24px;transform-origin:0 0;transform:scaleX(0.9355);">1x2 Brazil</span><span class="t" style="top:76.15px;font-size:9.6px;color:#808185;-webkit-text-stroke:0.3px #808185;right:11.53px;transform-origin:100% 0;transform:scaleX(0.8361);">1.47</span><span class="t" style="top:91.80px;font-size:9.3px;color:#808185;-webkit-text-stroke:0.3px #808185;left:12.31px;transform-origin:0 0;transform:scaleX(0.9984);">Stake</span><span class="t" style="top:93.00px;font-size:9.6px;color:#808185;-webkit-text-stroke:0.3px #808185;right:10.86px;transform-origin:100% 0;transform:scaleX(0.9951);">200 ฿</span><span class="t" style="top:109.75px;font-size:10.0px;color:#f0f0f0;-webkit-text-stroke:0.5px #f0f0f0;left:11.94px;transform-origin:0 0;transform:scaleX(1.0636);">YOU WON</span><span class="t" style="top:108.55px;font-size:11.6px;color:#f0f0f0;-webkit-text-stroke:0.5px #f0f0f0;right:11.32px;transform-origin:100% 0;transform:scaleX(0.9395);">294 ฿</span><span class="t" style="top:163.90px;font-size:7.2px;color:#7a7b7f;-webkit-text-stroke:0.25px #7a7b7f;left:12.89px;transform-origin:0 0;transform:scaleX(1.0070);">Ticket ID: 2209037436019942181</span><svg class="ic" style="left:125.10px;top:162.70px" width="10" height="10" viewBox="0 0 10 10"><rect x="0.5" y="0.5" width="4.4" height="5.4" rx="1.3" fill="none" stroke="#7a7b7f" stroke-width="1"/><path d="M7.7 2.6 V7.4 Q7.7 8.6 6.5 8.6 H3.2" fill="none" stroke="#7a7b7f" stroke-width="1" stroke-linecap="round"/></svg></div>
</body></html>
